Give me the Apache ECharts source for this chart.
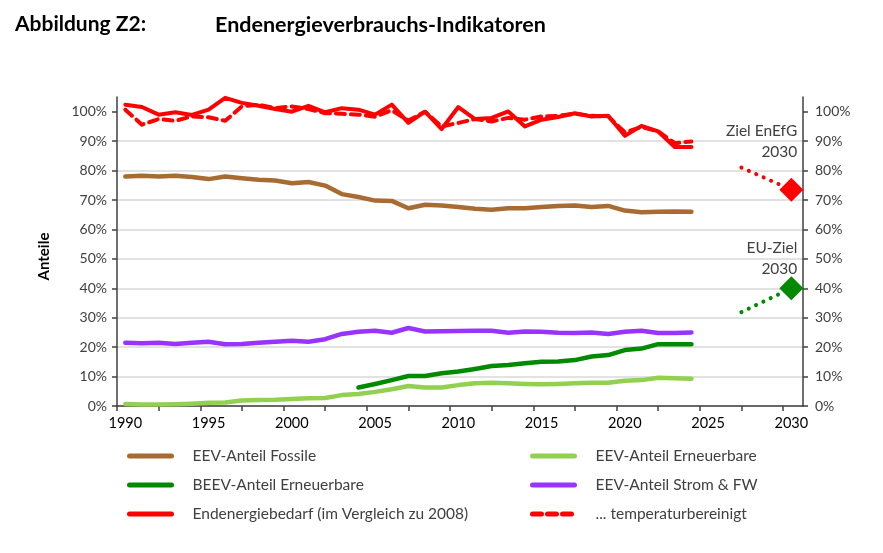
<!DOCTYPE html>
<html><head><meta charset="utf-8">
<script src="https://cdn.jsdelivr.net/npm/echarts@6/dist/echarts.min.js"></script>
<style>html,body{margin:0;padding:0;background:#fff}#c{width:883px;height:553px}</style>
</head><body><div id="c"></div>
<script>
const years = [1990,1991,1992,1993,1994,1995,1996,1997,1998,1999,2000,2001,2002,2003,2004,2005,2006,2007,2008,2009,2010,2011,2012,2013,2014,2015,2016,2017,2018,2019,2020,2021,2022,2023,2024];
const fossile = [78.0,78.2,78.0,78.2,77.8,77.1,78.0,77.4,76.9,76.6,75.7,76.1,74.9,72.0,71.0,69.8,69.7,67.2,68.4,68.1,67.6,67.0,66.7,67.2,67.2,67.6,68.0,68.1,67.6,68.0,66.4,65.8,66.0,66.1,66.0];
const eevErneuerbare = [0.7,0.5,0.5,0.6,0.8,1.1,1.2,1.9,2.0,2.1,2.4,2.6,2.7,3.7,4.1,4.8,5.7,6.8,6.3,6.3,7.1,7.7,7.9,7.7,7.5,7.4,7.5,7.7,7.9,7.9,8.6,8.8,9.6,9.4,9.3];
const beevErneuerbare = [null,null,null,null,null,null,null,null,null,null,null,null,null,null,6.3,7.5,8.8,10.2,10.2,11.1,11.7,12.6,13.6,13.9,14.5,15.0,15.1,15.6,16.8,17.3,19.0,19.5,21.0,21.0,21.0];
const stromFW = [21.5,21.3,21.5,21.1,21.5,21.8,21.0,21.1,21.5,21.8,22.2,21.8,22.7,24.5,25.2,25.6,24.9,26.5,25.3,25.4,25.5,25.6,25.6,24.9,25.3,25.2,24.9,24.8,25.0,24.5,25.2,25.6,24.8,24.8,25.0];
const endenergie = [102.4,101.6,99.0,99.8,98.9,100.7,104.7,103.0,102.0,100.9,100.0,102.0,99.8,101.2,100.7,99.0,102.4,96.2,100.0,94.1,101.6,97.5,97.9,100.1,95.0,97.3,98.2,99.5,98.4,98.6,91.8,95.2,93.3,88.0,88.0];
const tempBereinigt = [100.7,95.6,97.5,96.9,98.4,98.1,96.9,101.8,102.4,101.2,101.8,100.9,99.5,99.3,99.0,98.3,100.5,97.0,100.0,95.0,96.2,97.5,96.7,97.9,97.3,98.4,98.6,99.3,98.6,98.4,93.0,94.8,93.3,89.3,89.9];
const zielEnEfG = [[2027, 81.0], [2030, 73.5]];
const zielEU = [[2027, 31.9], [2030, 40.0]];
const xLabels = [1990,1995,2000,2005,2010,2015,2020,2025,2030];
const xTicks = [1989.5,1992,1994.5,1997,1999.5,2002,2004.5,2007,2009.5,2012,2014.5,2017,2019.5,2022,2024.5,2027,2029.5];
const yTicks = [0,10,20,30,40,50,60,70,80,90,100];

const FONT = 'Lato, "Open Sans", sans-serif';
const pair = arr => years.map((y, i) => [y, arr[i]]);
const chart = echarts.init(document.getElementById('c'), null, {renderer: 'canvas'});

function lineSeries(name, data, color, width, type) {
  return {
    name, type: 'line', data: pair(data), symbol: 'none', smooth: false,
    lineStyle: {color, width, type: type || 'solid', cap: 'round', join: 'round'},
    itemStyle: {color}, z: 3
  };
}
function target(name, data, color, text, dist) {
  return {
    name, type: 'line', data: data.map((d, i) => ({
      value: d,
      symbol: i === data.length - 1 ? 'diamond' : 'none',
      symbolSize: 24,
      label: i === data.length - 1 ? {
        show: true, position: 'top', distance: dist, align: 'right', offset: [6, 0],
        formatter: text, color: '#404040', fontSize: 15.5, lineHeight: 21.5, fontFamily: FONT
      } : {show: false}
    })),
    lineStyle: {color, width: 4, type: [0.1, 8], cap: 'round'},
    itemStyle: {color}, z: 4, legendHoverLink: false
  };
}

const yAxisCommon = {
  type: 'value', min: 0, max: 105,
  axisLine: {show: true, lineStyle: {color: '#404040', width: 1.5}},
  axisTick: {show: true, customValues: yTicks, length: 5, lineStyle: {color: '#404040', width: 1.5}},
  axisLabel: {customValues: yTicks, formatter: '{value}%', color: '#404040', fontSize: 14, fontFamily: FONT}
};
const legendCommon = {
  top: 443, orient: 'vertical', itemGap: 13, itemWidth: 42, itemHeight: 16,
  itemStyle: {opacity: 0},
  lineStyle: {width: 5},
  textStyle: {fontSize: 15.5, color: '#404040', fontFamily: FONT, padding: [0, 0, 0, 16]}
};

chart.setOption({
  animation: false,
  textStyle: {fontFamily: FONT},
  graphic: [
    {type: 'text', left: 15, top: 14, style: {text: 'Abbildung Z2:', font: 'bold 21px ' + FONT, fill: '#000'}},
    {type: 'text', left: 215, top: 14, style: {text: 'Endenergieverbrauchs-Indikatoren', font: 'bold 21.5px ' + FONT, fill: '#000'}}
  ],
  grid: {left: 117, right: 80, top: 97, bottom: 147, containLabel: false},
  xAxis: {
    type: 'value', min: 1989.5, max: 2030.7,
    axisLine: {show: true, onZero: false, lineStyle: {color: '#404040', width: 1.5}},
    axisTick: {show: true, customValues: xTicks, length: 5, lineStyle: {color: '#404040', width: 1.5}},
    axisLabel: {customValues: xLabels, formatter: v => String(v), color: '#000', fontSize: 14.5, margin: 10, fontFamily: FONT},
    splitLine: {show: false}
  },
  yAxis: [
    Object.assign({}, yAxisCommon, {
      position: 'left',
      name: 'Anteile', nameLocation: 'middle', nameGap: 65, nameRotate: 90,
      nameTextStyle: {fontWeight: 'bold', fontSize: 15, color: '#000', fontFamily: FONT, padding: [0, 10, 0, 0]},
      axisLabel: Object.assign({}, yAxisCommon.axisLabel, {margin: 10}),
      splitLine: {show: true, showMaxLine: false, lineStyle: {color: '#D9D9D9', width: 1.5}}
    }),
    Object.assign({}, yAxisCommon, {
      position: 'right',
      axisLabel: Object.assign({}, yAxisCommon.axisLabel, {margin: 12}),
      splitLine: {show: false}
    })
  ],
  legend: [
    Object.assign({}, legendCommon, {
      left: 122,
      data: ['EEV-Anteil Fossile', 'BEEV-Anteil Erneuerbare', 'Endenergiebedarf (im Vergleich zu 2008)']
    }),
    Object.assign({}, legendCommon, {
      left: 525,
      data: ['EEV-Anteil Erneuerbare', 'EEV-Anteil Strom & FW', '... temperaturbereinigt']
    })
  ],
  series: [
    lineSeries('EEV-Anteil Fossile', fossile, '#A86B32', 4.5),
    lineSeries('EEV-Anteil Erneuerbare', eevErneuerbare, '#92D050', 4.5),
    lineSeries('BEEV-Anteil Erneuerbare', beevErneuerbare, '#008A00', 4.5),
    lineSeries('EEV-Anteil Strom & FW', stromFW, '#9933FF', 4.5),
    lineSeries('Endenergiebedarf (im Vergleich zu 2008)', endenergie, '#FF0000', 4),
    lineSeries('... temperaturbereinigt', tempBereinigt, '#FF0000', 4, [9, 6]),
    target('Ziel EnEfG 2030', zielEnEfG, '#FF0000', 'Ziel EnEfG\n2030', 14.5),
    target('EU-Ziel 2030', zielEU, '#008A00', 'EU-Ziel\n2030', -3.5)
  ]
});
</script></body></html>
